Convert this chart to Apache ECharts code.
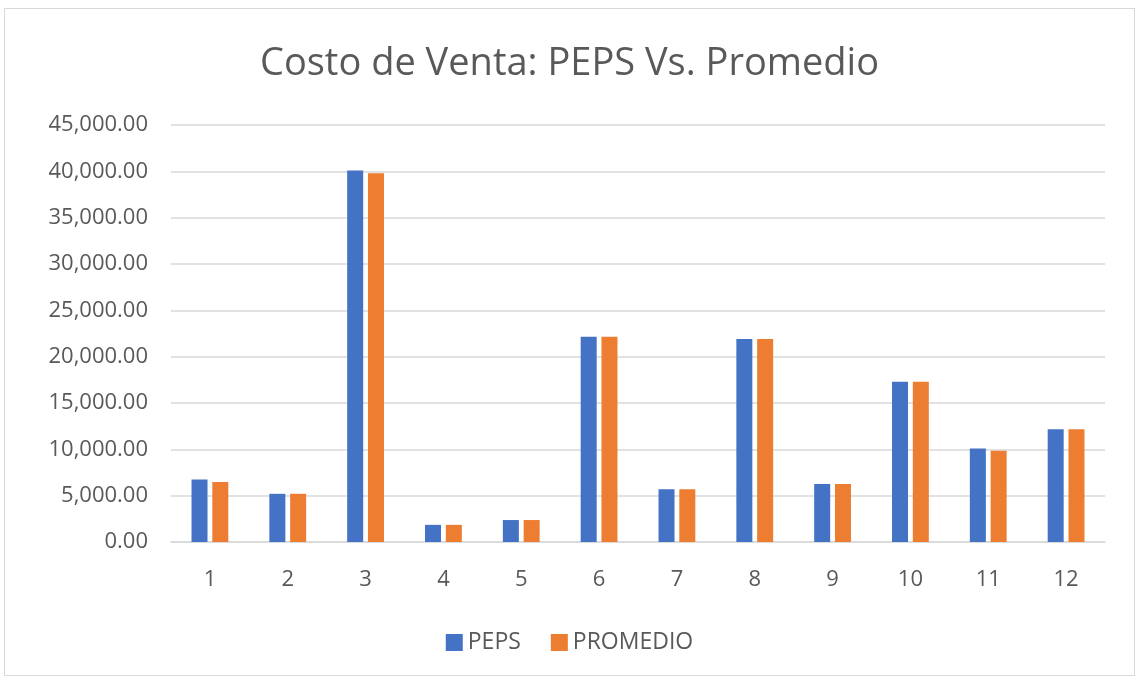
<!DOCTYPE html>
<html>
<head>
<meta charset="utf-8">
<script src="https://cdn.jsdelivr.net/npm/echarts@6/dist/echarts.min.js"></script>
<style>
  html, body { margin: 0; padding: 0; background: #fff; }
  #box {
    position: absolute; left: 4px; top: 8px; width: 1131px; height: 668px;
    border: 1px solid #d9d9d9; box-sizing: border-box;
  }
  #chart { width: 100%; height: 100%; }
</style>
</head>
<body>
<div id="box"><div id="chart"></div></div>
<script>
  // datos
  var categories = ['1','2','3','4','5','6','7','8','9','10','11','12'];
  var peps = [6750, 5200, 40100, 1850, 2370, 22150, 5700, 21900, 6260, 17300, 10100, 12180];
  var promedio = [6480, 5200, 39800, 1850, 2370, 22150, 5700, 21900, 6260, 17300, 9860, 12180];
  var yTicks = { min: 0, max: 45000, interval: 5000 };

  var textColor = '#595959';
  var fontName = 'Open Sans';

  var myChart = echarts.init(document.getElementById('chart'));
  var option = {
    animation: false,
    color: ['#4472c4', '#ed7d31'],
    title: {
      text: 'Costo de Venta: PEPS Vs. Promedio',
      left: 'center',
      top: 31,
      textStyle: { color: textColor, fontSize: 38, fontWeight: 'normal', fontFamily: fontName }
    },
    legend: {
      bottom: 16,
      left: 'center',
      itemWidth: 17,
      itemHeight: 17,
      itemGap: 30,
      icon: 'rect',
      textStyle: { color: textColor, fontSize: 23, fontFamily: fontName }
    },
    grid: { left: 166, right: 29, top: 116, bottom: 133 },
    xAxis: {
      type: 'category',
      data: categories,
      axisTick: { show: false },
      axisLine: { lineStyle: { color: '#d9d9d9', width: 1.5 } },
      axisLabel: { color: textColor, fontSize: 22, fontFamily: fontName, margin: 27 }
    },
    yAxis: {
      type: 'value',
      min: yTicks.min,
      max: yTicks.max,
      interval: yTicks.interval,
      axisLine: { show: false },
      axisTick: { show: false },
      splitLine: { lineStyle: { color: '#d9d9d9', width: 1.5 } },
      axisLabel: {
        color: textColor, fontSize: 22, fontFamily: fontName, margin: 23,
        formatter: function (v) {
          return v.toLocaleString('en-US', { minimumFractionDigits: 2, maximumFractionDigits: 2 });
        }
      }
    },
    series: [
      { name: 'PEPS', type: 'bar', data: peps, barWidth: 16, barGap: '30%' },
      { name: 'PROMEDIO', type: 'bar', data: promedio, barWidth: 16, barGap: '30%' }
    ]
  };
  myChart.setOption(option);
</script>
</body>
</html>
